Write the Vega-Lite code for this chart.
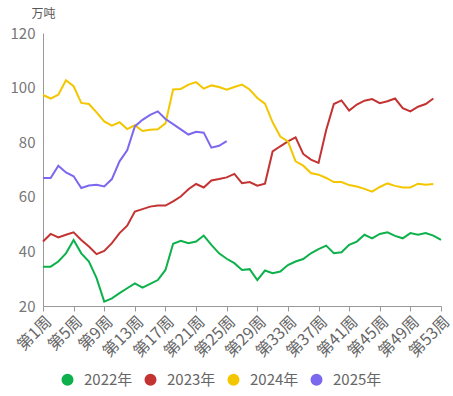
{
  "$schema": "https://vega.github.io/schema/vega-lite/v6.json",
  "width": 398,
  "height": 273,
  "autosize": {"type": "none"},
  "padding": {"left": 43, "top": 33, "right": 12, "bottom": 90},
  "background": "white",
  "config": {
    "font": "Noto Sans CJK SC",
    "view": {"stroke": null}
  },
  "data": {
    "values": [
      {"w":1,"s":"2022年","v":34.4},{"w":2,"s":"2022年","v":34.4},{"w":3,"s":"2022年","v":36.3},{"w":4,"s":"2022年","v":39.3},{"w":5,"s":"2022年","v":44.2},{"w":6,"s":"2022年","v":39.3},{"w":7,"s":"2022年","v":36.3},{"w":8,"s":"2022年","v":30.2},{"w":9,"s":"2022年","v":21.6},{"w":10,"s":"2022年","v":22.8},
      {"w":11,"s":"2022年","v":24.7},{"w":12,"s":"2022年","v":26.5},{"w":13,"s":"2022年","v":28.3},{"w":14,"s":"2022年","v":26.7},{"w":15,"s":"2022年","v":28.1},{"w":16,"s":"2022年","v":29.5},{"w":17,"s":"2022年","v":33.2},{"w":18,"s":"2022年","v":42.8},{"w":19,"s":"2022年","v":43.9},{"w":20,"s":"2022年","v":43.0},
      {"w":21,"s":"2022年","v":43.6},{"w":22,"s":"2022年","v":45.8},{"w":23,"s":"2022年","v":42.4},{"w":24,"s":"2022年","v":39.3},{"w":25,"s":"2022年","v":37.3},{"w":26,"s":"2022年","v":35.7},{"w":27,"s":"2022年","v":33.2},{"w":28,"s":"2022年","v":33.5},{"w":29,"s":"2022年","v":29.5},{"w":30,"s":"2022年","v":33.0},
      {"w":31,"s":"2022年","v":32.0},{"w":32,"s":"2022年","v":32.6},{"w":33,"s":"2022年","v":35.0},{"w":34,"s":"2022年","v":36.3},{"w":35,"s":"2022年","v":37.2},{"w":36,"s":"2022年","v":39.3},{"w":37,"s":"2022年","v":40.8},{"w":38,"s":"2022年","v":42.1},{"w":39,"s":"2022年","v":39.3},{"w":40,"s":"2022年","v":39.7},
      {"w":41,"s":"2022年","v":42.4},{"w":42,"s":"2022年","v":43.6},{"w":43,"s":"2022年","v":46.1},{"w":44,"s":"2022年","v":44.8},{"w":45,"s":"2022年","v":46.4},{"w":46,"s":"2022年","v":47.0},{"w":47,"s":"2022年","v":45.7},{"w":48,"s":"2022年","v":44.8},{"w":49,"s":"2022年","v":46.7},{"w":50,"s":"2022年","v":46.1},
      {"w":51,"s":"2022年","v":46.7},{"w":52,"s":"2022年","v":45.8},{"w":53,"s":"2022年","v":44.2},

      {"w":1,"s":"2023年","v":43.6},{"w":2,"s":"2023年","v":46.4},{"w":3,"s":"2023年","v":45.1},{"w":4,"s":"2023年","v":46.1},{"w":5,"s":"2023年","v":47.0},{"w":6,"s":"2023年","v":44.2},{"w":7,"s":"2023年","v":41.8},{"w":8,"s":"2023年","v":39.0},{"w":9,"s":"2023年","v":40.2},{"w":10,"s":"2023年","v":43.0},
      {"w":11,"s":"2023年","v":46.7},{"w":12,"s":"2023年","v":49.4},{"w":13,"s":"2023年","v":54.6},{"w":14,"s":"2023年","v":55.5},{"w":15,"s":"2023年","v":56.4},{"w":16,"s":"2023年","v":56.8},{"w":17,"s":"2023年","v":56.8},{"w":18,"s":"2023年","v":58.3},{"w":19,"s":"2023年","v":60.1},{"w":20,"s":"2023年","v":62.8},
      {"w":21,"s":"2023年","v":64.7},{"w":22,"s":"2023年","v":63.4},{"w":23,"s":"2023年","v":66.0},{"w":24,"s":"2023年","v":66.5},{"w":25,"s":"2023年","v":67.1},{"w":26,"s":"2023年","v":68.4},{"w":27,"s":"2023年","v":65.0},{"w":28,"s":"2023年","v":65.4},{"w":29,"s":"2023年","v":64.1},{"w":30,"s":"2023年","v":64.8},
      {"w":31,"s":"2023年","v":76.6},{"w":32,"s":"2023年","v":78.5},{"w":33,"s":"2023年","v":80.3},{"w":34,"s":"2023年","v":81.8},{"w":35,"s":"2023年","v":75.7},{"w":36,"s":"2023年","v":73.6},{"w":37,"s":"2023年","v":72.4},{"w":38,"s":"2023年","v":84.5},{"w":39,"s":"2023年","v":94.0},{"w":40,"s":"2023年","v":95.3},
      {"w":41,"s":"2023年","v":91.6},{"w":42,"s":"2023年","v":93.8},{"w":43,"s":"2023年","v":95.2},{"w":44,"s":"2023年","v":95.8},{"w":45,"s":"2023年","v":94.3},{"w":46,"s":"2023年","v":95.0},{"w":47,"s":"2023年","v":96.0},{"w":48,"s":"2023年","v":92.5},{"w":49,"s":"2023年","v":91.3},{"w":50,"s":"2023年","v":93.0},
      {"w":51,"s":"2023年","v":94.0},{"w":52,"s":"2023年","v":96.0},

      {"w":1,"s":"2024年","v":97.3},{"w":2,"s":"2024年","v":96.0},{"w":3,"s":"2024年","v":97.4},{"w":4,"s":"2024年","v":102.7},{"w":5,"s":"2024年","v":100.5},{"w":6,"s":"2024年","v":94.4},{"w":7,"s":"2024年","v":94.0},{"w":8,"s":"2024年","v":90.9},{"w":9,"s":"2024年","v":87.6},{"w":10,"s":"2024年","v":86.1},
      {"w":11,"s":"2024年","v":87.3},{"w":12,"s":"2024年","v":84.8},{"w":13,"s":"2024年","v":86.2},{"w":14,"s":"2024年","v":84.1},{"w":15,"s":"2024年","v":84.6},{"w":16,"s":"2024年","v":84.7},{"w":17,"s":"2024年","v":86.9},{"w":18,"s":"2024年","v":99.3},{"w":19,"s":"2024年","v":99.5},{"w":20,"s":"2024年","v":101.1},
      {"w":21,"s":"2024年","v":102.0},{"w":22,"s":"2024年","v":99.6},{"w":23,"s":"2024年","v":100.8},{"w":24,"s":"2024年","v":100.2},{"w":25,"s":"2024年","v":99.2},{"w":26,"s":"2024年","v":100.2},{"w":27,"s":"2024年","v":101.1},{"w":28,"s":"2024年","v":99.3},{"w":29,"s":"2024年","v":96.2},{"w":30,"s":"2024年","v":94.1},
      {"w":31,"s":"2024年","v":87.3},{"w":32,"s":"2024年","v":82.1},{"w":33,"s":"2024年","v":80.3},{"w":34,"s":"2024年","v":73.0},{"w":35,"s":"2024年","v":71.4},{"w":36,"s":"2024年","v":68.7},{"w":37,"s":"2024年","v":68.1},{"w":38,"s":"2024年","v":66.9},{"w":39,"s":"2024年","v":65.4},{"w":40,"s":"2024年","v":65.4},
      {"w":41,"s":"2024年","v":64.3},{"w":42,"s":"2024年","v":63.8},{"w":43,"s":"2024年","v":62.9},{"w":44,"s":"2024年","v":61.9},{"w":45,"s":"2024年","v":63.6},{"w":46,"s":"2024年","v":64.9},{"w":47,"s":"2024年","v":64.0},{"w":48,"s":"2024年","v":63.4},{"w":49,"s":"2024年","v":63.4},{"w":50,"s":"2024年","v":64.8},
      {"w":51,"s":"2024年","v":64.4},{"w":52,"s":"2024年","v":64.7},

      {"w":1,"s":"2025年","v":66.9},{"w":2,"s":"2025年","v":66.9},{"w":3,"s":"2025年","v":71.4},{"w":4,"s":"2025年","v":68.9},{"w":5,"s":"2025年","v":67.5},{"w":6,"s":"2025年","v":63.2},{"w":7,"s":"2025年","v":64.1},{"w":8,"s":"2025年","v":64.4},{"w":9,"s":"2025年","v":63.8},{"w":10,"s":"2025年","v":66.5},
      {"w":11,"s":"2025年","v":73.0},{"w":12,"s":"2025年","v":77.0},{"w":13,"s":"2025年","v":85.8},{"w":14,"s":"2025年","v":88.2},{"w":15,"s":"2025年","v":90.0},{"w":16,"s":"2025年","v":91.3},{"w":17,"s":"2025年","v":88.5},{"w":18,"s":"2025年","v":86.6},{"w":19,"s":"2025年","v":84.7},{"w":20,"s":"2025年","v":82.8},
      {"w":21,"s":"2025年","v":83.8},{"w":22,"s":"2025年","v":83.5},{"w":23,"s":"2025年","v":78.0},{"w":24,"s":"2025年","v":78.7},{"w":25,"s":"2025年","v":80.4}
    ]
  },
  "mark": {"type": "line", "strokeWidth": 2},
  "encoding": {
    "x": {
      "field": "w",
      "type": "quantitative",
      "scale": {"domain": [1, 53], "nice": false, "zero": false},
      "axis": {
        "title": null,
        "values": [1,5,9,13,17,21,25,29,33,37,41,45,49,53],
        "labelExpr": "'第' + datum.value + '周'",
        "labelAngle": -45,
        "labelFontSize": 16,
        "labelColor": "#666666",
        "labelPadding": 2,
        "grid": false,
        "tickSize": 5,
        "tickColor": "#999999",
        "domainColor": "#999999",
        "labelOverlap": false,
        "labelBound": false,
        "labelFlush": false
      }
    },
    "y": {
      "field": "v",
      "type": "quantitative",
      "scale": {"domain": [20, 120], "nice": false, "zero": false},
      "axis": {
        "title": "万吨",
        "titleAngle": 0,
        "titleX": 0,
        "titleY": -20,
        "titleAlign": "center",
        "titleBaseline": "middle",
        "titleFontSize": 12,
        "titleFontWeight": "normal",
        "titleColor": "#555555",
        "values": [20,40,60,80,100,120],
        "labelFontSize": 15,
        "labelColor": "#777777",
        "labelPadding": 8,
        "grid": false,
        "ticks": false,
        "domainColor": "#999999"
      }
    },
    "color": {
      "field": "s",
      "type": "nominal",
      "scale": {
        "domain": ["2022年", "2023年", "2024年", "2025年"],
        "range": ["#0db14b", "#c33331", "#f3c600", "#7b68ee"]
      },
      "legend": {
        "title": null,
        "orient": "none",
        "direction": "horizontal",
        "legendX": 17,
        "legendY": 339,
        "symbolType": "circle",
        "symbolSize": 36,
        "symbolStrokeWidth": 6,
        "labelFontSize": 15,
        "labelColor": "#666666",
        "labelOffset": 9,
        "columnPadding": 2
      }
    }
  }
}
